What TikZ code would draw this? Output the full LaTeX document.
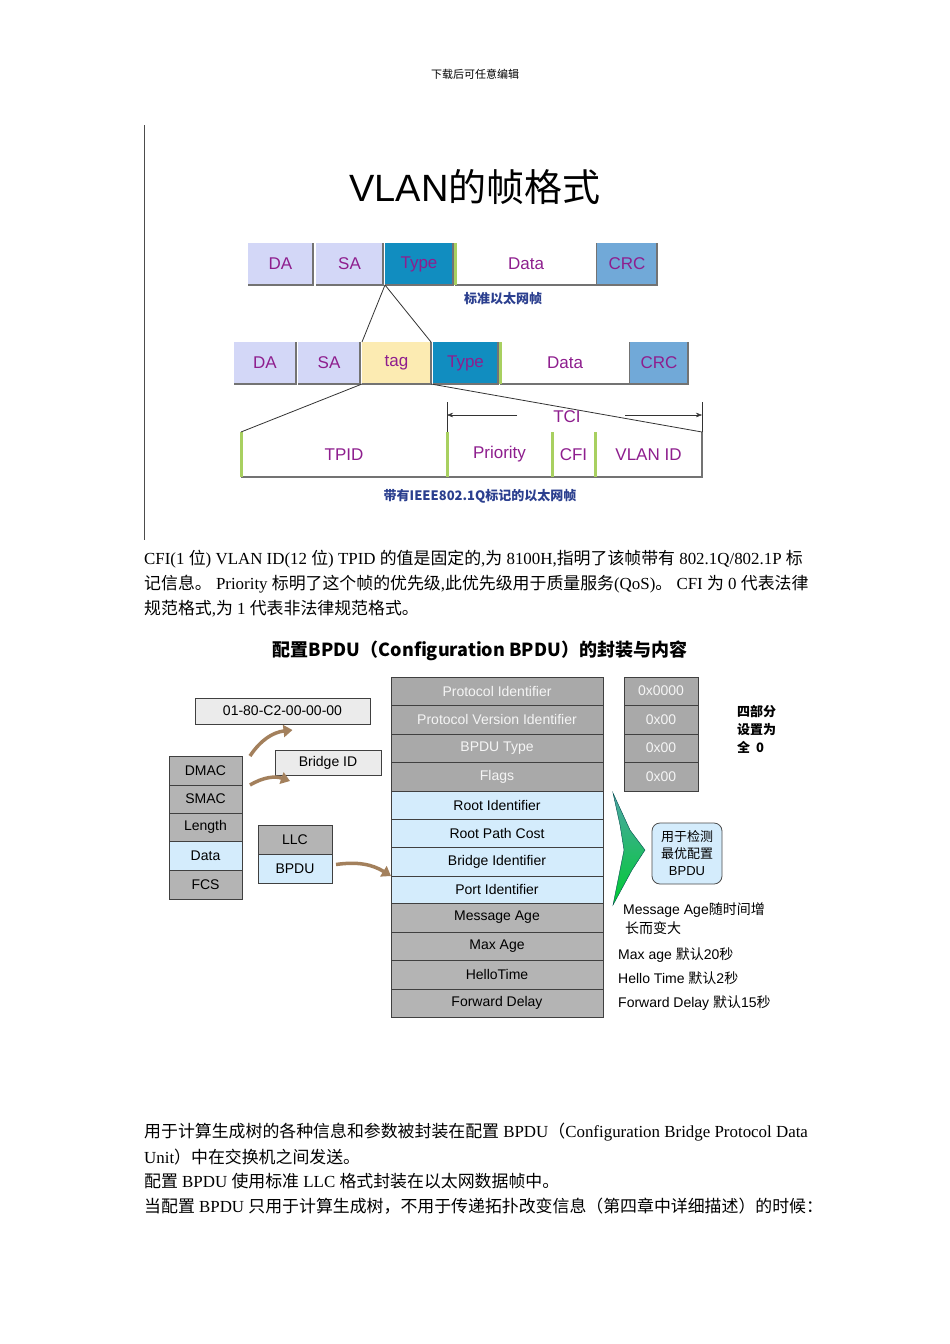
\documentclass[tikz,border=0pt]{standalone}
\usepackage{fontspec}
\setmainfont{Liberation Serif}
\newfontfamily\cj{Noto Sans CJK SC}
\newfontfamily\sa{Liberation Sans}
\usetikzlibrary{arrows.meta,calc}
\definecolor{lav}{HTML}{D3D7F7}
\definecolor{typ}{HTML}{118DC0}
\definecolor{crc}{HTML}{71A9D8}
\definecolor{tagc}{HTML}{FCEBB2}
\definecolor{pur}{HTML}{8E1E8E}
\definecolor{nav}{HTML}{2B3F8F}
\definecolor{gr1}{HTML}{A9A9A9}
\definecolor{gr2}{HTML}{B4B4B4}
\definecolor{lb}{HTML}{D4ECFC}
\definecolor{acc}{HTML}{A8D060}
\tikzset{
 fld/.style={inner sep=0pt,outer sep=0pt,font=\sa\fontsize{17}{17}\selectfont,text=pur},
 cell/.style={draw=black!75,line width=1pt,inner sep=0pt,outer sep=0pt,font=\sa\fontsize{14}{14}\selectfont},
 body/.style={anchor=west,inner sep=0pt,font=\fontsize{16.9}{17}\selectfont},
 note/.style={anchor=west,inner sep=0pt,font=\sa\fontsize{14}{14}\selectfont},
 cv/.style={line width=3.5pt,draw=brown!55!gray,-{Triangle[length=9pt,width=12pt]}},
}
\newcommand\fbx[7]{\node[fld,fill=#6,minimum width={#4-#2},minimum height={#5-#3}] (#1) at ({(#2+#4)/2},{(#3+#5)/2}) {#7};
 \draw[black!55,line width=2pt] (#1.north east)--(#1.south east)--(#1.south west);}
\newcommand\cbx[7]{\node[cell,fill=#6,minimum width={#4-#2},minimum height={#5-#3}] (#1) at ({(#2+#4)/2},{(#3+#5)/2}) {#7};}
\begin{document}
\begin{tikzpicture}[x=1pt,y=-1pt]
\useasboundingbox[fill=white] (0,0) rectangle (950,1344);
\node (hdr) at (475,74) {\cj\fontsize{11}{11}\selectfont 下载后可任意编辑};
\draw[black!70] (144,125) -- (144,540);
\node (ttl) at (475,187) {\sa\fontsize{38}{38}\selectfont VLAN\cj 的帧格式};
% row 1
\fbx{a1}{248}{243}{313}{285}{lav}{DA}
\fbx{a2}{316}{243}{383}{285}{lav}{SA}
\fbx{a3}{385}{243}{453}{285}{typ}{Type}
\fbx{a4}{455}{243}{597}{285}{white}{Data}
\fbx{a5}{597}{243}{657}{285}{crc}{CRC}
\draw[acc,line width=3pt] (a4.north west)--(a4.south west);
\node (l1) at (503,299) {\cj\bfseries\fontsize{13}{13}\selectfont\color{nav}标准以太网帧};
% row 2
\fbx{b1}{234}{342}{296}{384}{lav}{DA}
\fbx{b2}{298}{342}{360}{384}{lav}{SA}
\fbx{b3}{362}{342}{431}{384}{tagc}{tag}
\fbx{b4}{433}{342}{498}{384}{typ}{Type}
\fbx{b5}{500}{342}{630}{384}{white}{Data}
\fbx{b6}{630}{342}{688}{384}{crc}{CRC}
\draw[acc,line width=3pt] (b5.north west)--(b5.south west);
\draw[black!80,line width=0.8pt] (a3.south west)--(b3.north west);
\draw[black!80,line width=0.8pt] (a3.south west)--(b3.north east);
% row 3
\fbx{c1}{241}{432}{447}{477}{white}{TPID}
\fbx{c2}{447}{432}{552}{477}{white}{Priority}
\fbx{c3}{552}{432}{595}{477}{white}{CFI}
\fbx{c4}{595}{432}{702}{477}{white}{VLAN ID}
\foreach \n in {c1,c2,c3,c4}{\draw[acc,line width=3pt] (\n.north west)--(\n.south west);}
\draw[black!80,line width=0.8pt] (b3.south west)--(c1.north west);
\draw[black!80,line width=0.8pt] (b3.south east)--(c4.north east);
\draw[black!80] (c2.north west)--++(0,-30);
\draw[black!80] (c4.north east)--++(0,-30);
\node[fld] (tci) at (567,417) {TCI};
\coordinate (t1) at (517,415); \coordinate (t2) at (447,415);
\coordinate (t3) at (625,415); \coordinate (t4) at (702,415);
\draw[-{Stealth[length=6pt]},black!80] (t1)--(t2);
\draw[-{Stealth[length=6pt]},black!80] (t3)--(t4);
\node (l2) at (480,496) {\cj\bfseries\fontsize{13}{13}\selectfont\color{nav}带有IEEE802.1Q标记的以太网帧};
% paragraph 1
\node[body] (p1) at (144,559) {CFI(1 {\cj 位}) VLAN ID(12 {\cj 位}) TPID {\cj 的值是固定的},{\cj 为} 8100H,{\cj 指明了该帧带有} 802.1Q/802.1P {\cj 标}};
\node[body] (p2) at (144,584) {{\cj 记信息。} Priority {\cj 标明了这个帧的优先级},{\cj 此优先级用于质量服务}(QoS){\cj 。} CFI {\cj 为} 0 {\cj 代表法律}};
\node[body] (p3) at (144,609) {{\cj 规范格式},{\cj 为} 1 {\cj 代表非法律规范格式。}};
% BPDU
\node (bt) at (480,651) {\cj\bfseries\fontsize{18}{18}\selectfont 配置BPDU（Configuration BPDU）的封装与内容};
\cbx{m1}{391}{677}{603}{705}{gr1}{\color{white!92!gray}Protocol Identifier}
\cbx{m2}{391}{705}{603}{734}{gr1}{\color{white!92!gray}Protocol Version Identifier}
\cbx{m3}{391}{734}{603}{762}{gr1}{\color{white!92!gray}BPDU Type}
\cbx{m4}{391}{762}{603}{791}{gr1}{\color{white!92!gray}Flags}
\cbx{m5}{391}{791}{603}{819}{lb}{Root Identifier}
\cbx{m6}{391}{819}{603}{847}{lb}{Root Path Cost}
\cbx{m7}{391}{847}{603}{876}{lb}{Bridge Identifier}
\cbx{m8}{391}{876}{603}{903}{lb}{Port Identifier}
\cbx{m9}{391}{903}{603}{932}{gr2}{Message Age}
\cbx{m10}{391}{932}{603}{960}{gr2}{Max Age}
\cbx{m11}{391}{960}{603}{989}{gr2}{HelloTime}
\cbx{m12}{391}{989}{603}{1017}{gr2}{Forward Delay}
\cbx{r1}{624}{677}{698}{705}{gr1}{\color{white!92!gray}0x0000}
\cbx{r2}{624}{705}{698}{734}{gr1}{\color{white!92!gray}0x00}
\cbx{r3}{624}{734}{698}{762}{gr1}{\color{white!92!gray}0x00}
\cbx{r4}{624}{762}{698}{791}{gr1}{\color{white!92!gray}0x00}
\node[anchor=north west,inner sep=0pt,align=left,font=\cj\bfseries\fontsize{13}{18}\selectfont] (zero) at (737,705) {四部分\\设置为\\全\ \ 0};
\cbx{s1}{169}{756}{242}{785}{gr2}{DMAC}
\cbx{s2}{169}{785}{242}{813}{gr2}{SMAC}
\cbx{s3}{169}{813}{242}{841}{gr2}{Length}
\cbx{s4}{169}{841}{242}{870}{lb}{Data}
\cbx{s5}{169}{870}{242}{899}{gr2}{FCS}
\cbx{u1}{258}{825}{332}{854}{gr2}{LLC}
\cbx{u2}{258}{854}{332}{883}{lb}{BPDU}
\cbx{mac}{195}{698}{370}{724}{black!8}{01-80-C2-00-00-00}
\cbx{bid}{275}{750}{381}{775}{black!8}{Bridge ID}
\draw[cv] ($(s1.north east)+(8,0)$) to[bend left=25] ($(mac.south)+(10,6)$);
\draw[cv] ($(s2.north east)+(8,0)$) to[bend left=25] ($(bid.south west)+(15,6)$);
\draw[cv] ($(u2.east)+(4,-4)$) to[bend left=20] (m7.south west);
\shade[top color=teal!70!white,bottom color=green!60!teal,draw=teal!60!black,line width=0.4pt]
 (613,793) -- (630,830) -- (645,850) -- (632,870) -- (613,905) -- (620,870) -- (624,850) -- (620,825) -- cycle;
\node[draw=black!70,fill=lb,rounded corners=8pt,line width=0.8pt,minimum width=70pt,minimum height=61pt,align=center,inner sep=1pt,font=\cj\fontsize{13}{17}\selectfont] (det) at (687,853.5) {用于检测\\最优配置\\{\sa BPDU}};
\node[note] (n1) at (623,910) {Message Age{\cj 随时间增}};
\node[note] (n2) at (625,928) {\cj 长而变大};
\node[note] (n3) at (618,955) {Max age {\cj 默认}20{\cj 秒}};
\node[note] (n4) at (618,978) {Hello Time {\cj 默认}2{\cj 秒}};
\node[note] (n5) at (618,1003) {Forward Delay {\cj 默认}15{\cj 秒}};
% bottom paragraph
\node[body] (q1) at (144,1132) {{\cj 用于计算生成树的各种信息和参数被封装在配置} BPDU{\cj （}Configuration Bridge Protocol Data};
\node[body] (q2) at (144,1157) {Unit{\cj ）中在交换机之间发送。}};
\node[body] (q3) at (144,1181) {{\cj 配置} BPDU {\cj 使用标准} LLC {\cj 格式封装在以太网数据帧中。}};
\node[body] (q4) at (144,1206) {{\cj 当配置} BPDU {\cj 只用于计算生成树，不用于传递拓扑改变信息（第四章中详细描述）的时候：}};
\end{tikzpicture}
\end{document}
